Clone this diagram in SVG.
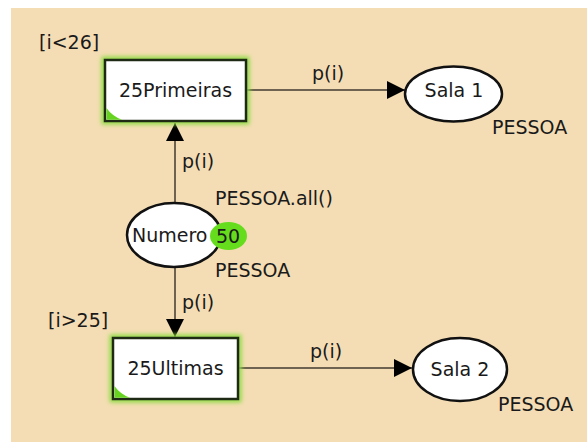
<svg xmlns="http://www.w3.org/2000/svg" width="587" height="442" viewBox="0 0 587 442">
  <style>
    text { font-family: "DejaVu Sans", "Liberation Sans", sans-serif; font-size: 19px; fill: #1a1a1a; }
    .mid { text-anchor: middle; }
    .arc { stroke: #6e6350; stroke-width: 2; fill: none; }
    .trans { fill: #ffffff; stroke: #1e2a14; stroke-width: 2.5; }
    .glow { fill: none; stroke: #8fdc44; stroke-width: 7; filter: url(#soft); }
    .place { fill: #ffffff; stroke: #111111; stroke-width: 2.5; }
    .corner { fill: #66d41e; }
    .token { fill: #66dd1e; filter: url(#tok); }
  </style>
  <defs>
    <filter id="soft" x="-20%" y="-30%" width="140%" height="160%">
      <feGaussianBlur stdDeviation="2"/>
    </filter>
    <filter id="tok" x="-30%" y="-30%" width="160%" height="160%">
      <feGaussianBlur stdDeviation="0.6"/>
    </filter>
    <marker id="head" viewBox="0 0 18 18" refX="18" refY="9" markerWidth="18" markerHeight="18" markerUnits="userSpaceOnUse" orient="auto">
      <path d="M0,0 L18,9 L0,18 Z" fill="#000000"/>
    </marker>
  </defs>

  <!-- page -->
  <rect x="0" y="0" width="587" height="442" fill="#ffffff"/>
  <rect x="11" y="8" width="576" height="434" fill="#f4ddb4"/>

  <!-- connectors -->
  <g id="arcs">
    <line class="arc" x1="246" y1="90" x2="405" y2="90" marker-end="url(#head)"/>
    <text x="312" y="80">p(i)</text>
    <line class="arc" x1="238" y1="368" x2="412" y2="368" marker-end="url(#head)"/>
    <text x="310" y="358">p(i)</text>
    <line class="arc" x1="175" y1="203" x2="175" y2="123" marker-end="url(#head)"/>
    <text x="182" y="168">p(i)</text>
    <line class="arc" x1="175" y1="267" x2="175" y2="337" marker-end="url(#head)"/>
    <text x="182" y="309">p(i)</text>
  </g>

  <!-- transitions -->
  <g id="t-25Primeiras">
    <rect class="glow" x="105" y="60" width="141" height="61"/>
    <rect class="trans" x="105" y="60" width="141" height="61"/>
    <path class="corner" d="M106.5,108 Q112,116 122,119.8 L106.5,119.8 Z"/>
    <text class="mid" x="175.5" y="97">25Primeiras</text>
    <text x="39" y="49">[i&lt;26]</text>
  </g>
  <g id="t-25Ultimas">
    <rect class="glow" x="113" y="338" width="125" height="61"/>
    <rect class="trans" x="113" y="338" width="125" height="61"/>
    <path class="corner" d="M114.5,386 Q120,394 130,397.8 L114.5,397.8 Z"/>
    <text class="mid" x="175.5" y="375">25Ultimas</text>
    <text x="48" y="327">[i&gt;25]</text>
  </g>

  <!-- places -->
  <g id="p-Numero">
    <ellipse class="place" cx="174" cy="235" rx="47" ry="32"/>
    <text x="132" y="242">Numero</text>
    <ellipse class="token" cx="228.5" cy="236" rx="18.5" ry="14"/>
    <text class="mid" x="228" y="243">50</text>
    <text x="215" y="205">PESSOA.all()</text>
    <text x="215" y="277">PESSOA</text>
  </g>
  <g id="p-Sala1">
    <ellipse class="place" cx="453.5" cy="94" rx="48.5" ry="27.5"/>
    <text class="mid" x="454" y="97">Sala 1</text>
    <text x="492" y="134">PESSOA</text>
  </g>
  <g id="p-Sala2">
    <ellipse class="place" cx="460" cy="369.5" rx="47" ry="31.5"/>
    <text class="mid" x="460" y="376">Sala 2</text>
    <text x="498" y="411">PESSOA</text>
  </g>
</svg>
